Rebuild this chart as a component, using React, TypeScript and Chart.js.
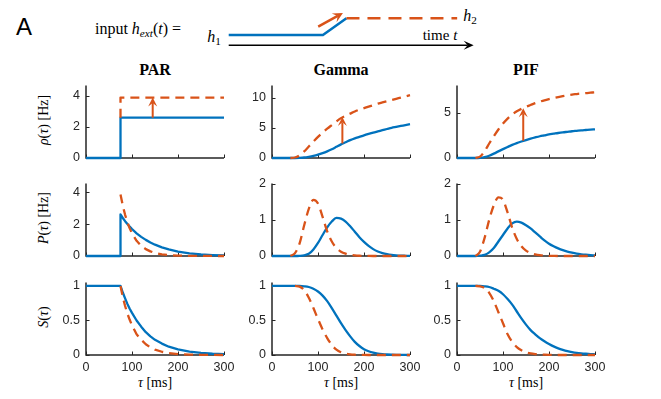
import React, { useEffect, useRef } from "react";
import { Chart, registerables } from "chart.js";

Chart.register(...registerables);

const BLUE = "#0072BD";
const ORANGE = "#D95319";
const INK = "#262626";

// ---------- data ----------
const T = [0, 10, 20, 30, 40, 50, 60, 70, 80, 90, 100, 110, 120, 130, 140, 150, 160, 170, 180, 190, 200, 210, 220, 230, 240, 250, 260, 270, 280, 290, 300];
const xTicks = [0, 100, 200, 300];

// PAR (step onset at 75 ms)
const parRhoT1 = [0, 75, 75, 300];
const parRhoH1 = [0, 0, 2.6, 2.6];
const parRhoT2 = [75, 75, 300];
const parRhoH2 = [2.6, 3.9, 3.9];
const preT = [0, 75];
const parPPre = [0, 0];
const parSPre = [1, 1];
const parT = [75, 80, 85, 90, 95, 100, 110, 120, 130, 140, 150, 165, 180, 200, 225, 250, 275, 300];
const parPH1 = [2.6, 2.38, 2.18, 2.0, 1.84, 1.69, 1.42, 1.2, 1.01, 0.85, 0.71, 0.54, 0.41, 0.28, 0.17, 0.1, 0.06, 0.035];
const parPH2 = [3.85, 3.15, 2.58, 2.12, 1.73, 1.42, 0.95, 0.64, 0.43, 0.29, 0.19, 0.105, 0.058, 0.026, 0.01, 0.004, 0.002, 0];
const parSH1 = [1, 0.905, 0.82, 0.74, 0.67, 0.61, 0.5, 0.41, 0.33, 0.27, 0.22, 0.165, 0.12, 0.082, 0.05, 0.03, 0.018, 0.011];
const parSH2 = [1, 0.84, 0.71, 0.6, 0.51, 0.43, 0.3, 0.22, 0.155, 0.11, 0.078, 0.047, 0.028, 0.014, 0.006, 0.003, 0.001, 0];

// Gamma
const gamRhoH1 = [0, 0, 0, 0, 0, 0, 0.02, 0.08, 0.2, 0.35, 0.55, 0.8, 1.1, 1.45, 1.85, 2.25, 2.6, 2.95, 3.25, 3.5, 3.75, 3.98, 4.2, 4.4, 4.6, 4.8, 5.0, 5.15, 5.3, 5.45, 5.6];
const gamRhoH2 = [null, null, null, null, 0, 0.08, 0.45, 1.1, 1.9, 2.7, 3.5, 4.2, 4.85, 5.45, 6.05, 6.6, 7.0, 7.35, 7.7, 8.0, 8.25, 8.5, 8.75, 9.0, 9.2, 9.4, 9.6, 9.8, 10.0, 10.2, 10.4];
const gamPH1 = [0, 0, 0, 0, 0, 0, 0.005, 0.02, 0.06, 0.18, 0.36, 0.58, 0.79, 0.95, 1.05, 1.03, 0.95, 0.82, 0.67, 0.52, 0.39, 0.28, 0.19, 0.125, 0.08, 0.05, 0.03, 0.018, 0.01, 0.006, 0.003];
const gamPH2 = [null, null, null, null, 0, 0.08, 0.35, 0.85, 1.3, 1.55, 1.45, 1.08, 0.68, 0.4, 0.22, 0.12, 0.065, 0.033, 0.016, 0.007, 0.003, 0.001, 0, 0, 0, 0, 0, 0, 0, 0, 0];
const gamSH1 = [1, 1, 1, 1, 1, 1, 1, 0.995, 0.985, 0.96, 0.92, 0.86, 0.78, 0.68, 0.57, 0.46, 0.36, 0.27, 0.19, 0.13, 0.085, 0.055, 0.034, 0.02, 0.012, 0.007, 0.004, 0.002, 0.001, 0.0005, 0];
const gamSH2 = [null, null, null, null, null, 1, 0.99, 0.94, 0.83, 0.68, 0.52, 0.37, 0.245, 0.145, 0.078, 0.04, 0.02, 0.009, 0.004, 0.0015, 0.0005, 0, 0, 0, 0, 0, 0, 0, 0, 0, 0];

// PIF
const pifRhoH1 = [0, 0, 0, 0, 0, 0.02, 0.1, 0.25, 0.48, 0.73, 0.98, 1.22, 1.45, 1.65, 1.82, 1.98, 2.13, 2.27, 2.4, 2.5, 2.6, 2.68, 2.76, 2.83, 2.89, 2.95, 3.0, 3.05, 3.09, 3.13, 3.16];
const pifRhoH2 = [null, null, null, null, 0, 0.15, 0.75, 1.6, 2.4, 3.15, 3.8, 4.35, 4.8, 5.15, 5.42, 5.65, 5.85, 6.05, 6.22, 6.37, 6.5, 6.62, 6.73, 6.83, 6.92, 7.0, 7.06, 7.12, 7.17, 7.21, 7.25];
const pifPH1 = [0, 0, 0, 0, 0, 0.01, 0.03, 0.1, 0.22, 0.4, 0.58, 0.76, 0.9, 0.95, 0.92, 0.85, 0.76, 0.65, 0.54, 0.43, 0.34, 0.27, 0.21, 0.16, 0.12, 0.09, 0.065, 0.047, 0.034, 0.024, 0.017];
const pifPH2 = [null, null, null, null, 0, 0.12, 0.5, 1.0, 1.4, 1.62, 1.55, 1.2, 0.78, 0.47, 0.27, 0.15, 0.08, 0.045, 0.024, 0.012, 0.005, 0.002, 0, 0, 0, 0, 0, 0, 0, 0, 0];
const pifSH1 = [1, 1, 1, 1, 1, 1, 0.995, 0.985, 0.96, 0.93, 0.88, 0.81, 0.73, 0.63, 0.53, 0.44, 0.36, 0.3, 0.245, 0.2, 0.16, 0.125, 0.097, 0.075, 0.057, 0.043, 0.032, 0.024, 0.018, 0.013, 0.01];
const pifSH2 = [null, null, null, null, 1, 0.995, 0.97, 0.9, 0.78, 0.62, 0.46, 0.3, 0.19, 0.115, 0.068, 0.04, 0.023, 0.013, 0.007, 0.004, 0.002, 0.001, 0, 0, 0, 0, 0, 0, 0, 0, 0];

// arrows in the rate row (h1 -> h2)
const arrowT = [145, 153, 144];
const arrowFrom = [2.6, 2.4, 1.9];
const arrowTo = [3.9, 6.8, 5.5];

// schematic of the input
const schemBlueX = [0, 4, 5];
const schemBlueY = [1, 1, 2];
const schemOrangeX = [5, 9.7];
const schemOrangeY = [2, 2];
const schemAxisX = [0, 10.4];
const schemAxisY = [0.4, 0.4];
const schemArrowX = [3.8, 4.85];
const schemArrowY = [1.5, 2.3];

// ---------- layout ----------
const COL_LEFT = [86, 272, 457];
const ROW_TOP = [82, 180, 279];
const PLOT_W = 138;
const PLOT_H = 76;
const Y_W = 40;
const PAD_T = 10;
const PAD_R = 16;
const X_H = 22;
const SERIF = "'Liberation Serif', 'Times New Roman', serif";
const SANS = "'Liberation Sans', Arial, sans-serif";

function pts(xs: number[], ys: (number | null)[]) {
  const out: { x: number; y: number }[] = [];
  xs.forEach((x, i) => {
    const y = ys[i];
    if (y !== null && y !== undefined) out.push({ x, y });
  });
  return out;
}

function drawArrow(ctx: CanvasRenderingContext2D, x0: number, y0: number, x1: number, y1: number, color: string, lw: number, headLen: number, headHalf: number) {
  const ang = Math.atan2(y1 - y0, x1 - x0);
  const c = Math.cos(ang), s = Math.sin(ang);
  const notch = headLen * 0.6;
  ctx.save();
  ctx.setLineDash([]);
  ctx.strokeStyle = color;
  ctx.fillStyle = color;
  ctx.lineWidth = lw;
  ctx.beginPath();
  ctx.moveTo(x0, y0);
  ctx.lineTo(x1 - c * notch, y1 - s * notch);
  ctx.stroke();
  const bx = x1 - c * headLen, by = y1 - s * headLen;
  ctx.beginPath();
  ctx.moveTo(x1, y1);
  ctx.lineTo(bx - s * headHalf, by + c * headHalf);
  ctx.lineTo(x1 - c * notch, y1 - s * notch);
  ctx.lineTo(bx + s * headHalf, by - c * headHalf);
  ctx.closePath();
  ctx.fill();
  ctx.restore();
}

// axis lines + inward tick marks, drawn underneath the curves
const axesUnder = {
  id: "axesUnder",
  beforeDatasetsDraw(chart: any) {
    const { ctx, chartArea, scales } = chart;
    const x = scales.x, y = scales.y;
    const L = chartArea.left;
    const B = chartArea.bottom;
    ctx.save();
    ctx.strokeStyle = INK;
    ctx.lineWidth = 1.5;
    ctx.beginPath();
    ctx.moveTo(L, chartArea.top);
    ctx.lineTo(L, B);
    ctx.lineTo(chartArea.right, B);
    ctx.stroke();
    ctx.lineWidth = 1;
    x.ticks.forEach((t: any) => {
      const px = Math.round(x.getPixelForValue(t.value)) + 0.5;
      ctx.beginPath();
      ctx.moveTo(px, B);
      ctx.lineTo(px, B - 3.5);
      ctx.stroke();
    });
    y.ticks.forEach((t: any) => {
      const py = Math.round(y.getPixelForValue(t.value)) + 0.5;
      ctx.beginPath();
      ctx.moveTo(L, py);
      ctx.lineTo(L + 3.5, py);
      ctx.stroke();
    });
    ctx.restore();
  },
};

const arrowPlugin = {
  id: "arrowMark",
  afterDatasetsDraw(chart: any, _a: any, opts: any) {
    if (!opts || opts.t === undefined || opts.t === null) return;
    const { x, y } = chart.scales;
    const px = x.getPixelForValue(opts.t);
    drawArrow(chart.ctx, px, y.getPixelForValue(opts.from), px, y.getPixelForValue(opts.to), ORANGE, 2, 9, 4.5);
  },
};

const schemPlugin = {
  id: "schemArrows",
  afterDatasetsDraw(chart: any) {
    const { x, y } = chart.scales;
    const ctx = chart.ctx;
    drawArrow(ctx, x.getPixelForValue(schemAxisX[0]), y.getPixelForValue(schemAxisY[0]), x.getPixelForValue(schemAxisX[1]), y.getPixelForValue(schemAxisY[1]), "#000", 1.5, 10, 4.5);
    drawArrow(ctx, x.getPixelForValue(schemArrowX[0]), y.getPixelForValue(schemArrowY[0]), x.getPixelForValue(schemArrowX[1]), y.getPixelForValue(schemArrowY[1]), ORANGE, 2.5, 10, 5);
  },
};

type Series = { x: number[]; y: (number | null)[]; color: string; dashed: boolean; smooth: boolean };
type PanelSpec = {
  col: number;
  row: number;
  ymax: number;
  yticks: number[];
  series: Series[];
  arrow?: { t: number; from: number; to: number };
};

function lineDs(s: Series) {
  return {
    data: pts(s.x, s.y),
    borderColor: s.color,
    backgroundColor: s.color,
    borderWidth: 2.3,
    borderDash: s.dashed ? [9, 6] : [],
    pointRadius: 0,
    fill: false,
    tension: 0,
    clip: 4,
    cubicInterpolationMode: s.smooth ? "monotone" : "default",
    borderCapStyle: "butt",
    borderJoinStyle: "round",
  };
}

function Panel({ spec }: { spec: PanelSpec }) {
  const ref = useRef<HTMLCanvasElement>(null);
  const cw = Y_W + PLOT_W + PAD_R;
  const ch = PAD_T + PLOT_H + X_H;
  useEffect(() => {
    const showX = spec.row === 2;
    const chart = new Chart(ref.current as HTMLCanvasElement, {
      type: "line",
      data: { datasets: spec.series.map(lineDs) as any },
      plugins: [axesUnder, arrowPlugin] as any,
      options: {
        responsive: false,
        animation: false,
        events: [],
        layout: { padding: { top: PAD_T, right: PAD_R, left: 0, bottom: 0 } },
        plugins: {
          legend: { display: false },
          tooltip: { enabled: false },
          arrowMark: spec.arrow ? spec.arrow : {},
        } as any,
        scales: {
          x: {
            type: "linear",
            min: 0,
            max: 300,
            grid: { display: false, drawTicks: false },
            border: { display: false },
            ticks: { display: showX, padding: 5, color: INK, font: { family: SANS, size: 12.5 }, callback: (v: any) => String(v) },
            afterBuildTicks: (s: any) => { s.ticks = xTicks.map((v) => ({ value: v })); },
            afterFit: (s: any) => { s.height = X_H; },
          },
          y: {
            type: "linear",
            min: 0,
            max: spec.ymax,
            grid: { display: false, drawTicks: false },
            border: { display: false },
            ticks: { padding: 6, color: INK, font: { family: SANS, size: 12.5 }, callback: (v: any) => String(v) },
            afterBuildTicks: (s: any) => { s.ticks = spec.yticks.map((v) => ({ value: v })); },
            afterFit: (s: any) => { s.width = Y_W; },
          },
        },
      } as any,
    });
    return () => chart.destroy();
  }, []);
  return (
    <canvas
      ref={ref}
      width={cw}
      height={ch}
      style={{ position: "absolute", left: COL_LEFT[spec.col] - Y_W, top: ROW_TOP[spec.row] - PAD_T, width: cw, height: ch }}
    />
  );
}

function Schematic() {
  const ref = useRef<HTMLCanvasElement>(null);
  useEffect(() => {
    const chart = new Chart(ref.current as HTMLCanvasElement, {
      type: "line",
      data: {
        datasets: [
          { data: pts(schemOrangeX, schemOrangeY), borderColor: ORANGE, borderWidth: 2.5, borderDash: [13, 8], pointRadius: 0, tension: 0, borderCapStyle: "butt", clip: 4 },
          { data: pts(schemBlueX, schemBlueY), borderColor: BLUE, borderWidth: 2.5, pointRadius: 0, tension: 0, clip: 4 },
        ] as any,
      },
      plugins: [schemPlugin] as any,
      options: {
        responsive: false,
        animation: false,
        events: [],
        layout: { padding: 0 },
        plugins: { legend: { display: false }, tooltip: { enabled: false } },
        scales: {
          x: { type: "linear", min: -0.2, max: 10.5, display: false },
          y: { type: "linear", min: 0, max: 2.6, display: false },
        },
      } as any,
    });
    return () => chart.destroy();
  }, []);
  return <canvas ref={ref} width={252} height={44} style={{ position: "absolute", left: 224, top: 8, width: 252, height: 44 }} />;
}

function Txt({ x, y, size, family, bold, rotate, children }: any) {
  return (
    <div
      style={{
        position: "absolute",
        left: x,
        top: y,
        transform: `translate(-50%, -50%)${rotate ? " rotate(-90deg)" : ""}`,
        whiteSpace: "nowrap",
        lineHeight: 1,
        fontSize: size,
        fontFamily: family || SERIF,
        fontWeight: bold ? "bold" : "normal",
        color: "#000",
      }}
    >
      {children}
    </div>
  );
}

const subStyle: any = { fontSize: "0.7em", verticalAlign: "-0.3em", lineHeight: 0 };

const titles = ["PAR", "Gamma", "PIF"];

export default function App() {
  const specs: PanelSpec[] = [
    {
      col: 0, row: 0, ymax: 4.68, yticks: [0, 2, 4],
      series: [
        { x: parRhoT2, y: parRhoH2, color: ORANGE, dashed: true, smooth: false },
        { x: parRhoT1, y: parRhoH1, color: BLUE, dashed: false, smooth: false },
      ],
      arrow: { t: arrowT[0], from: arrowFrom[0], to: arrowTo[0] },
    },
    {
      col: 1, row: 0, ymax: 12, yticks: [0, 5, 10],
      series: [
        { x: T, y: gamRhoH2, color: ORANGE, dashed: true, smooth: true },
        { x: T, y: gamRhoH1, color: BLUE, dashed: false, smooth: true },
      ],
      arrow: { t: arrowT[1], from: arrowFrom[1], to: arrowTo[1] },
    },
    {
      col: 2, row: 0, ymax: 8, yticks: [0, 5],
      series: [
        { x: T, y: pifRhoH2, color: ORANGE, dashed: true, smooth: true },
        { x: T, y: pifRhoH1, color: BLUE, dashed: false, smooth: true },
      ],
      arrow: { t: arrowT[2], from: arrowFrom[2], to: arrowTo[2] },
    },
    {
      col: 0, row: 1, ymax: 4.54, yticks: [0, 2, 4],
      series: [
        { x: parT, y: parPH2, color: ORANGE, dashed: true, smooth: false },
        { x: [...preT, ...parT], y: [...parPPre, ...parPH1], color: BLUE, dashed: false, smooth: false },
      ],
    },
    {
      col: 1, row: 1, ymax: 2, yticks: [0, 1, 2],
      series: [
        { x: T, y: gamPH2, color: ORANGE, dashed: true, smooth: true },
        { x: T, y: gamPH1, color: BLUE, dashed: false, smooth: true },
      ],
    },
    {
      col: 2, row: 1, ymax: 2, yticks: [0, 1, 2],
      series: [
        { x: T, y: pifPH2, color: ORANGE, dashed: true, smooth: true },
        { x: T, y: pifPH1, color: BLUE, dashed: false, smooth: true },
      ],
    },
    {
      col: 0, row: 2, ymax: 1.05, yticks: [0, 0.5, 1],
      series: [
        { x: parT, y: parSH2, color: ORANGE, dashed: true, smooth: false },
        { x: [...preT, ...parT], y: [...parSPre, ...parSH1], color: BLUE, dashed: false, smooth: false },
      ],
    },
    {
      col: 1, row: 2, ymax: 1.05, yticks: [0, 0.5, 1],
      series: [
        { x: T, y: gamSH2, color: ORANGE, dashed: true, smooth: true },
        { x: T, y: gamSH1, color: BLUE, dashed: false, smooth: true },
      ],
    },
    {
      col: 2, row: 2, ymax: 1.05, yticks: [0, 0.5, 1],
      series: [
        { x: T, y: pifSH2, color: ORANGE, dashed: true, smooth: true },
        { x: T, y: pifSH1, color: BLUE, dashed: false, smooth: true },
      ],
    },
  ];

  const colCenter = COL_LEFT.map((l) => l + PLOT_W / 2);
  const rowCenter = ROW_TOP.map((t) => t + PLOT_H / 2);

  return (
    <div style={{ position: "absolute", left: 0, top: 0, width: 661, height: 399, background: "#fff", overflow: "hidden" }}>
      <Txt x={24} y={27} size={24} family={SANS}>A</Txt>
      <Txt x={138} y={29} size={16}>
        input <i>h</i><sub style={subStyle}><i>ext</i></sub>(<i>t</i>) =
      </Txt>
      <Txt x={214} y={37} size={16}><i>h</i><sub style={subStyle}>1</sub></Txt>
      <Txt x={470} y={16} size={16}><i>h</i><sub style={subStyle}>2</sub></Txt>
      <Txt x={440} y={35} size={15}>time <i>t</i></Txt>
      <Schematic />

      {titles.map((t, i) => (
        <Txt key={t} x={colCenter[i]} y={70} size={16} bold>{t}</Txt>
      ))}

      <Txt x={44} y={rowCenter[0]} size={14} rotate><i>ρ</i>(<i>τ</i>) [Hz]</Txt>
      <Txt x={44} y={rowCenter[1]} size={14} rotate><i>P</i>(<i>τ</i>) [Hz]</Txt>
      <Txt x={44} y={rowCenter[2]} size={14} rotate><i>S</i>(<i>τ</i>)</Txt>

      {colCenter.map((c, i) => (
        <Txt key={i} x={c} y={383} size={14}><i>τ</i> [ms]</Txt>
      ))}

      {specs.map((s, i) => (
        <Panel key={i} spec={s} />
      ))}
    </div>
  );
}
